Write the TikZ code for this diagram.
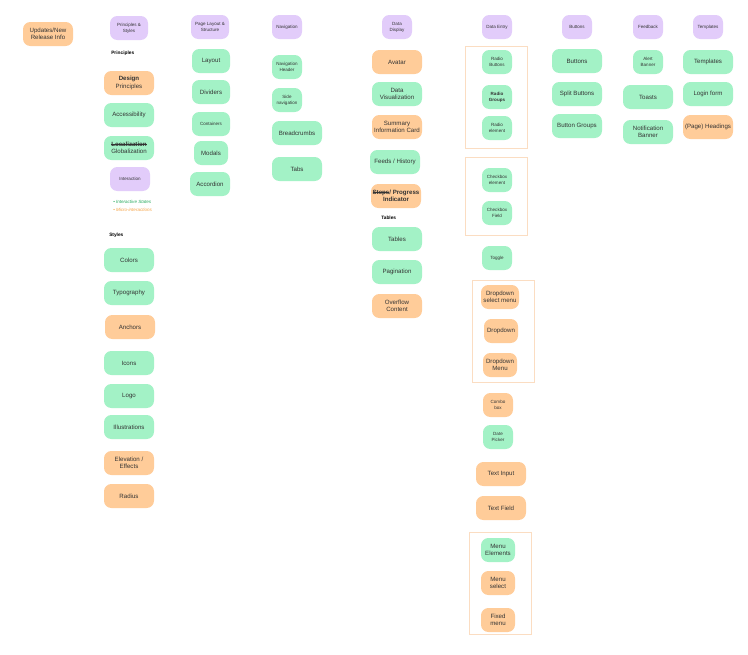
\documentclass[tikz,border=0pt]{standalone}
\usepackage{fontspec}
\setmainfont{Liberation Sans}
\newcommand\mystrk[1]{\setbox0\hbox{#1}\rlap{\rule[0.3em]{\wd0}{0.35pt}}\box0}
\definecolor{gr}{HTML}{A3F2C6}
\definecolor{or}{HTML}{FFCC99}
\definecolor{pu}{HTML}{E2CCFA}
\definecolor{fr}{HTML}{FBDDC2}
\definecolor{tx}{HTML}{333333}
\definecolor{gt}{HTML}{22A85A}
\definecolor{ot}{HTML}{F5A040}
\tikzset{
 bx/.style={rounded corners=5.5pt, inner sep=0pt, align=center, text=tx, font=\fontsize{4.6}{5.6}\selectfont, minimum height=18pt},
 g/.style={bx, fill=gr}, o/.style={bx, fill=or}, p/.style={bx, fill=pu, font=\fontsize{3.4}{4.6}\selectfont},
 sm/.style={font=\fontsize{3.4}{4.6}\selectfont},
 lab/.style={font=\bfseries\fontsize{3.6}{4.6}\selectfont, anchor=west, inner sep=0pt},
 fb/.style={draw=fr, line width=0.6pt},
 w50/.style={minimum width=37.5pt}, w38/.style={minimum width=28.5pt}, w30/.style={minimum width=22.5pt}, w34/.style={minimum width=25.5pt}, w40/.style={minimum width=30pt}
}
\begin{document}
\begin{tikzpicture}[x=0.75pt,y=-0.75pt]
\useasboundingbox[fill=white] (0,0) rectangle (748,654);
% boxes
\draw[fb] (465,46) rectangle (527,148);
\draw[fb] (465,157) rectangle (527,235);
\draw[fb] (472,280) rectangle (534,382);
\draw[fb] (469,532) rectangle (531,634);
\node[o,w50] (upd) at (48,34) {Updates/New\\Release Info};
% col 1
\node[p,w38] (ps) at (129,28) {Principles \&\\Styles};
\node[lab] (lp) at (111,53) {Principles};
\node[o,w50] (dp) at (129,83) {\textbf{Design}\\Principles};
\node[g,w50] (acc) at (129,115) {Accessibility};
\node[g,w50] (loc) at (129,148) {\textbf{\mystrk{Localization}}\\Globalization};
\node[p,w40] (int) at (130,179) {Interaction};
\node[lab,font=\fontsize{3.4}{4.6}\selectfont\itshape,text=gt] (is) at (113,202) {\textbullet\ Interactive States};
\node[lab,font=\fontsize{3.4}{4.6}\selectfont\itshape,text=ot] (mi) at (113,210) {\textbullet\ Micro-interactions};
\node[lab] (ls) at (109,235) {Styles};
\node[g,w50] (col) at (129,260) {Colors};
\node[g,w50] (typ) at (129,293) {Typography};
\node[o,w50] (anc) at (130,327) {Anchors};
\node[g,w50] (ico) at (129,363) {Icons};
\node[g,w50] (logo) at (129,396) {Logo};
\node[g,w50] (ill) at (129,427) {Illustrations};
\node[o,w50] (ele) at (129,463) {Elevation /\\Effects};
\node[o,w50] (rad) at (129,496) {Radius};
% col 2
\node[p,w38] (pl) at (210,27) {Page Layout \&\\Structure};
\node[g,w38] (lay) at (211,61) {Layout};
\node[g,w38] (div) at (211,92) {Dividers};
\node[g,w38,sm] (con) at (211,124) {Containers};
\node[g,w34] (mod) at (211,153) {Modals};
\node[g,w40] (acd) at (210,184) {Accordion};
% col 3
\node[p,w30] (nav) at (287,27) {Navigation};
\node[g,w30,sm] (nh) at (287,67) {Navigation\\Header};
\node[g,w30,sm] (sn) at (287,100) {Side\\navigation};
\node[g,w50] (bc) at (297,133) {Breadcrumbs};
\node[g,w50] (tabs) at (297,169) {Tabs};
% col 4
\node[p,w30] (dd) at (397,27) {Data\\Display};
\node[o,w50] (av) at (397,62) {Avatar};
\node[g,w50] (dv) at (397,94) {Data\\Visualization};
\node[o,w50] (sic) at (397,127) {Summary\\Information Card};
\node[g,w50] (fh) at (395,162) {Feeds / History};
\node[o,w50] (spi) at (396,196) {\textbf{\mystrk{Steps} / Progress}\\\textbf{Indicator}};
\node[lab] (lt) at (381,218) {Tables};
\node[g,w50] (tab) at (397,239) {Tables};
\node[g,w50] (pag) at (397,272) {Pagination};
\node[o,w50] (ovc) at (397,306) {Overflow\\Content};
% col 5
\node[p,w30] (de) at (497,27) {Data Entry};
\node[g,w30,sm] (rb) at (497,62) {Radio\\Buttons};
\node[g,w30,sm,font=\bfseries\fontsize{3.4}{4.6}\selectfont] (rg) at (497,97) {Radio\\Groups};
\node[g,w30,sm] (re) at (497,128) {Radio\\element};
\node[g,w30,sm] (ce) at (497,180) {Checkbox\\element};
\node[g,w30,sm] (cf) at (497,213) {Checkbox\\Field};
\node[g,w30,sm] (tog) at (497,258) {Toggle};
\node[o,w38] (dsm) at (500,297) {Dropdown\\select menu};
\node[o,w34] (dro) at (501,331) {Dropdown};
\node[o,w34] (drm) at (500,365) {Dropdown\\Menu};
\node[o,w30,sm] (cb) at (498,405) {Combo\\box};
\node[g,w30,sm] (dpk) at (498,437) {Date\\Picker};
\node[o,w50] (ti) at (501,474) {Text Input};
\node[o,w50] (tf) at (501,508) {Text Field};
\node[g,w34] (me) at (498,550) {Menu\\Elements};
\node[o,w34] (ms) at (498,583) {Menu\\select};
\node[o,w34] (fm) at (498,620) {Fixed\\menu};
% col 6
\node[p,w30] (bt) at (577,27) {Buttons};
\node[g,w50] (btn) at (577,61) {Buttons};
\node[g,w50] (sb) at (577,94) {Split Buttons};
\node[g,w50] (bg) at (577,126) {Button Groups};
% col 7
\node[p,w30] (fb) at (648,27) {Feedback};
\node[g,w30,sm] (ab) at (648,62) {Alert\\Banner};
\node[g,w50] (toa) at (648,97) {Toasts};
\node[g,w50] (nb) at (648,132) {Notification\\Banner};
% col 8
\node[p,w30] (tp) at (708,27) {Templates};
\node[g,w50] (tem) at (708,62) {Templates};
\node[g,w50] (lf) at (708,94) {Login form};
\node[o,w50] (ph) at (708,127) {(Page) Headings};
\end{tikzpicture}
\end{document}
